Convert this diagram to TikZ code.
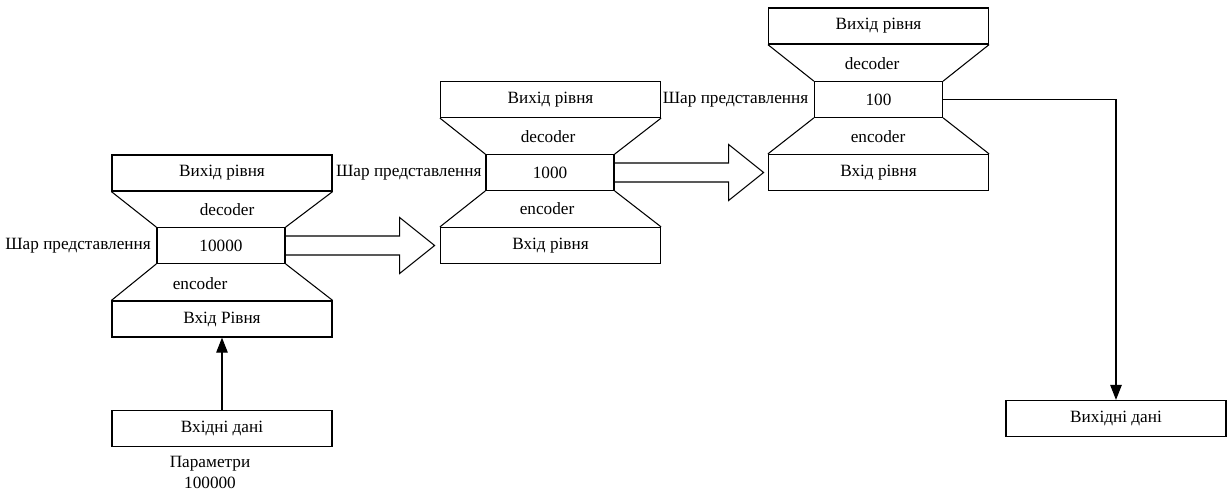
\documentclass[tikz,border=0pt]{standalone}
\usepackage{fontspec}
\setmainfont{Liberation Serif}
\usetikzlibrary{positioning,arrows.meta}

\tikzset{
  layerbox/.style={draw, line width=0.7pt, minimum width=4.4cm, minimum height=0.72cm, inner sep=0pt},
  codebox/.style={draw, line width=0.7pt, minimum width=2.56cm, minimum height=0.71cm, inner sep=0pt},
  sidetext/.style={inner sep=0pt},
  thinline/.style={line width=0.6pt},
  flow/.style={line width=0.6pt, -{Triangle[length=3mm,width=2.3mm]}},
}

% hollow arrow from a code layer to the next block
\newcommand\hollowarrow[1]{%
  \draw[thinline] (#1.east) ++(0,-9.5) -- ++(114,0) -- ++(0,-18.5)
    -- ++(35,28) -- ++(-35,28) -- ++(0,-18.5) -- ++(-114,0);}

\begin{document}
\begin{tikzpicture}[x=0.02cm, y=-0.02cm, font=\fontsize{9.8}{12}\selectfont]
  % frame of the picture
  \useasboundingbox (0,0) rectangle (1232,495);
  % first block
  \node[layerbox] (top1) at (222,173) {Вихід рівня};
  \node[codebox] (mid1) at (221,245.5) {10000};
  \node[layerbox] (bot1) at (222,319) {Вхід Рівня};
  \draw[thinline] (top1.south west) -- (mid1.north west) (top1.south east) -- (mid1.north east)
    (mid1.south west) -- (bot1.north west) (mid1.south east) -- (bot1.north east);
  \node (dec1) at (227,210) {decoder};
  \node (enc1) at (200,284) {encoder};
  \node[sidetext, left=3pt of mid1] (lab1) {Шар представлення};
  % second block
  \node[layerbox] (top2) at (550.5,99.5) {Вихід рівня};
  \node[codebox] (mid2) at (550,172.5) {1000};
  \node[layerbox] (bot2) at (550.5,245.5) {Вхід рівня};
  \draw[thinline] (top2.south west) -- (mid2.north west) (top2.south east) -- (mid2.north east)
    (mid2.south west) -- (bot2.north west) (mid2.south east) -- (bot2.north east);
  \node (dec2) at (548,137) {decoder};
  \node (enc2) at (547,209) {encoder};
  \node[sidetext, left=2pt of mid2] (lab2) {Шар представлення};
  % third block
  \node[layerbox] (top3) at (878.5,26) {Вихід рівня};
  \node[codebox] (mid3) at (878.5,99.5) {100};
  \node[layerbox] (bot3) at (878.5,172.5) {Вхід рівня};
  \draw[thinline] (top3.south west) -- (mid3.north west) (top3.south east) -- (mid3.north east)
    (mid3.south west) -- (bot3.north west) (mid3.south east) -- (bot3.north east);
  \node (dec3) at (872,64) {decoder};
  \node (enc3) at (878,137) {encoder};
  \node[sidetext, left=3pt of mid3] (lab3) {Шар представлення};
  % arrows between blocks
  \hollowarrow{mid1}
  \hollowarrow{mid2}
  % input and output
  \node[layerbox] (inp) at (222,428.5) {Вхідні дані};
  \node[align=center] (par) at (210,472) {Параметри\\100000};
  \draw[flow] (inp.north) -- (bot1.south);
  \node[layerbox] (outp) at (1116,418.5) {Вихідні дані};
  \coordinate (turn) at (1116,99.5);
  \draw[flow] (mid3.east) -- (turn) -- (outp.north);
\end{tikzpicture}
\end{document}
